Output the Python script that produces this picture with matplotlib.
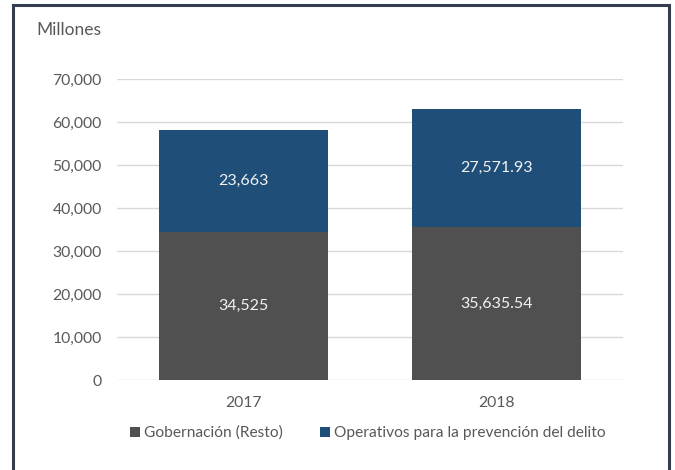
import matplotlib.pyplot as plt
from matplotlib.patches import Rectangle

years = ["2017", "2018"]
gobernacion = [34525, 35635.54]
operativos = [23663, 27571.93]
gob_labels = ["34,525", "35,635.54"]
op_labels = ["23,663", "27,571.93"]
yticks = [0, 10000, 20000, 30000, 40000, 50000, 60000, 70000]

plt.rcParams['font.family'] = ['Lato', 'DejaVu Sans']

fig = plt.figure(figsize=(6.75, 4.7), dpi=100)
W, H = 675, 470

# area del grafico en pixeles
x0, x1, ytop, ybot = 117, 623, 79.3, 380.3
ax = fig.add_axes([x0 / W, 1 - ybot / H, (x1 - x0) / W, (ybot - ytop) / H])

gris = "#505050"
azul = "#1f4e79"
pos = range(len(years))
ax.bar(pos, gobernacion, width=0.67, color=gris, label="Gobernación (Resto)", zorder=3)
ax.bar(pos, operativos, width=0.67, bottom=gobernacion, color=azul,
       label="Operativos para la prevención del delito", zorder=3)

for i in pos:
    ax.text(i, gobernacion[i] / 2, gob_labels[i], ha="center", va="center",
            color="#f2f2f2", fontsize=11.5, zorder=4)
    ax.text(i, gobernacion[i] + operativos[i] / 2, op_labels[i], ha="center", va="center",
            color="#f2f2f2", fontsize=11.5, zorder=4)

ax.set_xlim(-0.5, 1.5)
ax.set_ylim(0, 70000)
ax.set_yticks(yticks)
ax.set_yticklabels([f"{v:,}" for v in yticks])
ax.set_xticks(list(pos))
ax.set_xticklabels(years)
ax.grid(axis="y", color="#d9d9d9", linewidth=1, zorder=0)
for s in ax.spines.values():
    s.set_visible(False)
ax.tick_params(axis="both", length=0, colors="#595959", labelsize=11.3)
ax.tick_params(axis="y", pad=11)
ax.tick_params(axis="x", pad=11)

fig.text(36 / W, 1 - 30 / H, "Millones", fontsize=12.5, color="#595959", va="center")

fig.legend(loc="center", bbox_to_anchor=(368 / W, 1 - 433 / H), ncol=2, frameon=False,
           fontsize=11.2, handlelength=0.65, handleheight=0.65, handletextpad=0.25,
           columnspacing=2.4, labelcolor="#595959")

# marco exterior
fig.patches.append(Rectangle((13 / W, -0.05), (669 - 13) / W, 1.05 - 5 / H,
                             transform=fig.transFigure, fill=False,
                             edgecolor="#343d4f", linewidth=2.2))

fig.savefig("out.png", dpi=100)
